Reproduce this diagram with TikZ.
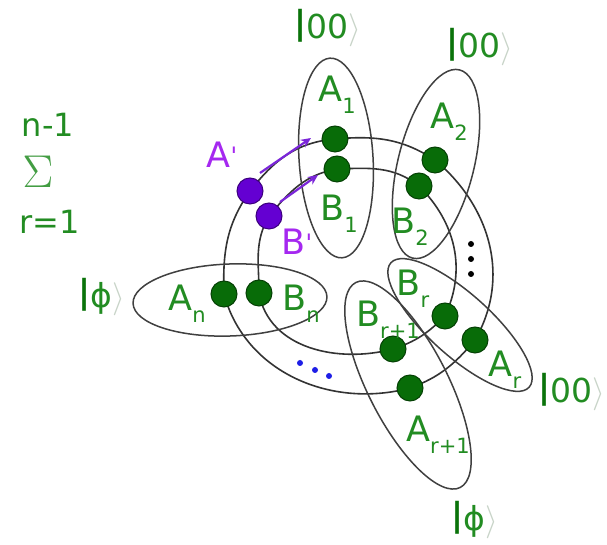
\RequirePackage{fix-cm}
\documentclass[tikz,border=0pt]{standalone}
\usepackage{fontspec}
\setmainfont{DejaVu Sans}
\usetikzlibrary{arrows.meta,backgrounds}

\definecolor{txtgreen}{RGB}{34,140,34}
\definecolor{bargreen}{RGB}{10,115,10}
\definecolor{dotgreen}{RGB}{8,108,8}
\definecolor{txtpurple}{RGB}{165,40,240}
\definecolor{dotpurple}{RGB}{100,0,210}
\definecolor{dotblue}{RGB}{30,30,230}
\definecolor{ketgray}{RGB}{200,212,200}

\newcommand{\qsub}[1]{\raisebox{-0.33em}{\fontsize{21}{21}\selectfont #1}}
\newcommand{\ketof}[1]{\textcolor{bargreen}{\raisebox{0.12em}{\textbf{|}}}#1\textcolor{ketgray}{$\rangle$}}
\newcommand{\prm}{\raisebox{0.1em}{\fontsize{24}{24}\selectfont\textquotesingle}}

\begin{document}
\begin{tikzpicture}[x=1pt,y=1pt,line width=1.6pt,>=Stealth]
\tikzset{qubit/.style={circle,fill=dotgreen,draw=dotgreen!60!black,line width=1pt,inner sep=0pt,minimum size=26pt},
  pqubit/.style={qubit,fill=dotpurple,draw=dotpurple!60!black},
  lbl/.style={text=txtgreen,inner sep=0pt,font=\fontsize{35}{35}\selectfont},
  plbl/.style={lbl,text=txtpurple},
  ket/.style={lbl,font=\fontsize{33}{33}\selectfont},
  ring/.style={draw=black!80,line width=1.6pt},
  pairbag/.style={draw=black!75,line width=1.5pt},
  swing/.style={draw=dotpurple!85,line width=2.2pt,-{Stealth[length=10pt,width=9pt]}}}
\useasboundingbox (0,0) rectangle (607,545);
% ---------- qubits on the outer (A) and inner (B) ring ----------
\node[pqubit] (Ap)  at (250,354) {};
\node[pqubit] (Bp)  at (269,329) {};
\node[qubit]  (A1)  at (335,406) {};
\node[qubit]  (B1)  at (337,376) {};
\node[qubit]  (A2)  at (435,385) {};
\node[qubit]  (B2)  at (419,359) {};
\node[qubit]  (Br)  at (445,229) {};
\node[qubit]  (Ar)  at (475,205) {};
\node[qubit]  (Br1) at (393,196) {};
\node[qubit]  (Ar1) at (410,157) {};
\node[qubit]  (An)  at (224,251) {};
\node[qubit]  (Bn)  at (259,252) {};
% ---------- labels ----------
\node[plbl] (lAp)  at (222,390) {A\prm};
\node[plbl] (lBp)  at (297,303) {B\prm};
\node[lbl]  (lA1)  at (337,450) {A\qsub{1}};
\node[lbl]  (lB1)  at (339,331) {B\qsub{1}};
\node[lbl]  (lA2)  at (449,423) {A\qsub{2}};
\node[lbl]  (lB2)  at (410,318) {B\qsub{2}};
\node[lbl]  (lBr)  at (413,256) {B\qsub{r}};
\node[lbl]  (lAr)  at (505,175) {A\qsub{r}};
\node[lbl]  (lBr1) at (388,225) {B\qsub{r+1}};
\node[lbl]  (lAr1) at (438,110) {A\qsub{r+1}};
\node[lbl]  (lAn)  at (187,241) {A\qsub{n}};
\node[lbl]  (lBn)  at (301,241) {B\qsub{n}};
% ---------- states and the sum ----------
\node[ket] (k1)   at (328,517) {\ketof{00}};
\node[ket] (k2)   at (480,498) {\ketof{00}};
\node[ket] (k3)   at (572,153) {\ketof{00}};
\node[ket] (kphi) at (102,248) {\ketof{ϕ}};
\node[ket] (kphb) at (475,25)  {\ketof{ϕ}};
\node[lbl,font=\fontsize{32}{32}\selectfont] (top) at (48,420) {n-1};
\node[lbl,text=txtgreen!85] (sig) at (38,373) {\fontsize{46}{46}\selectfont$\Sigma$};
\node[lbl,font=\fontsize{32}{32}\selectfont] (bot) at (50,323) {r=1};
% ---------- swap arrows ----------
\coordinate (s1) at (260,372);
\coordinate (e1) at (311,407);
\coordinate (s2) at (280,343);
\coordinate (e2) at (318,370);
\draw[swing] (s1) -- (e1);
\draw[swing] (s2) -- (e2);
% dots
\fill[dotblue] (300,182) circle (3pt) (315,175) circle (3pt) (329,169) circle (3pt);
\fill[black] (471,301) circle (3pt) (471,286) circle (3pt) (471,271) circle (3pt);
\begin{pgfonlayer}{background}
  \fill[white] (0,0) rectangle (607,545);
  % rings
  \draw[ring] (Ap.center) to[out=52,in=185] (A1.center) to[out=5,in=147] (A2.center)
    to[out=-40,in=60] (Ar.center) to[out=-130,in=20] (Ar1.center)
    to[out=195,in=-75] (An.center) to[out=92,in=235] (Ap.center);
  \draw[ring] (Bp.center) to[out=50,in=190] (B1.center) to[out=2,in=142] (B2.center)
    to[out=-45,in=65] (Br.center) to[out=-135,in=18] (Br1.center)
    to[out=195,in=-80] (Bn.center) to[out=90,in=240] (Bp.center);
  % pairs
  \draw[pairbag,rotate around={3.5:(336,387)}] (336,387) ellipse (37pt and 100pt);
  \draw[pairbag,rotate around={-14:(436,381)}] (436,381) ellipse (38pt and 97pt);
  \draw[pairbag,rotate around={-42:(460,220)}] (460,220) ellipse (93pt and 31pt);
  \draw[pairbag,rotate around={-63:(408,160)}] (408,160) ellipse (115pt and 40pt);
  \draw[pairbag,rotate around={2:(230,245)}] (230,245) ellipse (97pt and 36pt);
\end{pgfonlayer}
\end{tikzpicture}
\end{document}
